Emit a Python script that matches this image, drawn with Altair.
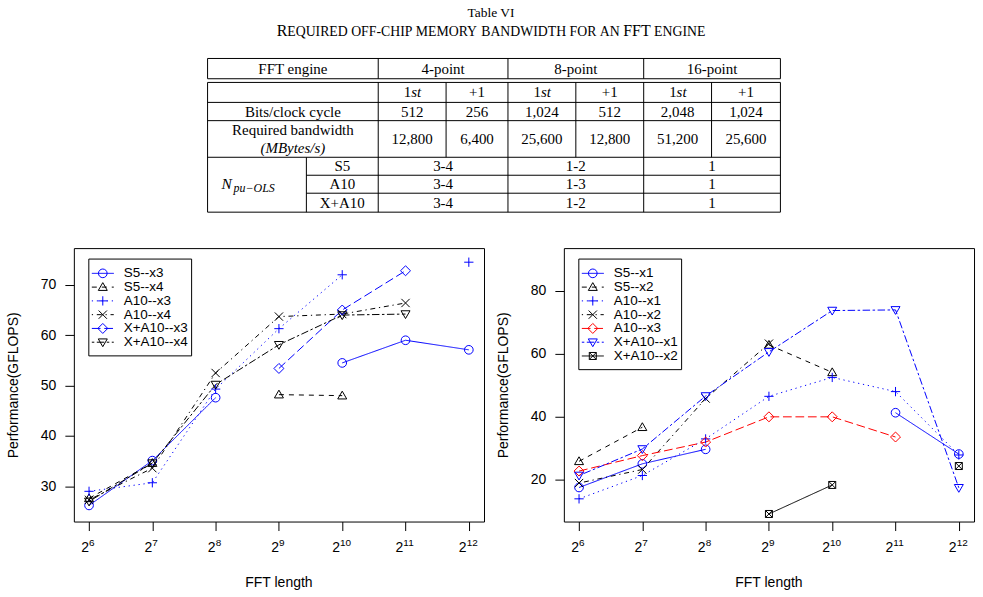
import altair as alt
import pandas as pd

# ---------------- data ----------------
fft_lengths = [64, 128, 256, 512, 1024, 2048, 4096]
fft_exponents = ["6", "7", "8", "9", "10", "11", "12"]

left_series = ["S5--x3", "S5--x4", "A10--x3", "A10--x4", "X+A10--x3", "X+A10--x4"]
left_s5_x3 = [26.2, 35.1, 47.6, None, 54.5, 59.0, 57.1]
left_s5_x4 = [27.6, 34.6, None, 48.2, 48.0, None, None]
left_a10_x3 = [29.0, 30.7, 49.3, 61.3, 72.0, None, 74.5]
left_a10_x4 = [27.3, 33.6, 52.5, 63.7, 64.2, 66.4, None]
left_xa10_x3 = [None, None, None, 53.4, 65.0, 72.8, None]
left_xa10_x4 = [27.0, 34.6, 50.2, 58.1, 64.0, 64.2, None]
left_y_ticks = [30, 40, 50, 60, 70]

right_series = ["S5--x1", "S5--x2", "A10--x1", "A10--x2", "A10--x3", "X+A10--x1", "X+A10--x2"]
right_s5_x1 = [17.6, 25.1, 29.7, None, None, 41.3, 28.2]
right_s5_x2 = [25.9, 36.7, None, 62.8, 54.1, None, None]
right_a10_x1 = [14.0, 21.4, 33.0, 46.5, 52.5, 48.0, 27.9]
right_a10_x2 = [19.0, 23.3, 45.8, 63.2, None, None, None]
right_a10_x3 = [22.8, 27.7, 32.0, 40.0, 40.0, 33.6, None]
right_xa10_x1 = [21.4, 29.8, 46.6, 60.6, 73.7, 73.9, 17.5]
right_xa10_x2 = [None, None, None, 9.2, 18.4, None, 24.4]
right_y_ticks = [20, 40, 60, 80]

table_title = "Table VI"
# caption in small caps, word by word: list of (piece, is_full_capital)
table_caption = [
    [("R", True), ("EQUIRED", False)], [("OFF-CHIP", False)], [("MEMORY", False)],
    [("BANDWIDTH", False)], [("FOR", False)], [("AN", False)], [("FFT", True)], [("ENGINE", False)],
]
engine_header = "FFT engine"
engine_names = ["4-point", "8-point", "16-point"]
stage_first = ("1", "st")
stage_next = "+1"
bits_label = "Bits/clock cycle"
bits_values = ["512", "256", "1,024", "512", "2,048", "1,024"]
bw_label = "Required bandwidth"
bw_unit = "(MBytes/s)"
bw_values = ["12,800", "6,400", "25,600", "12,800", "51,200", "25,600"]
npu_main, npu_sub = "N", "pu\u2212OLS"
platforms = ["S5", "A10", "X+A10"]
npu_values = [["3-4", "1-2", "1"], ["3-4", "1-3", "1"], ["3-4", "1-2", "1"]]

# ---------------- styles / layout ----------------
SANS = "Liberation Sans"
SERIF = "Liberation Serif"
BLUE, BLACK, RED = "#0000ff", "#000000", "#ff0000"
DASH = {
    "solid": [1, 0], "dashed": [5, 5], "dotted": [1.25, 3.75],
    "dotdash": [1.25, 3.75, 5, 3.75], "longdash": [8.75, 3.75], "twodash": [2.5, 2.5, 7.5, 2.5],
}
SHAPE = {
    "circle": "M0.87,0A0.87,0.87,0,1,1,-0.87,0A0.87,0.87,0,1,1,0.87,0Z",
    "tri_up": "M0,-0.9L0.9,0.66L-0.9,0.66Z",
    "plus": "M-0.93,0L0.93,0M0,-0.93L0,0.93",
    "cross": "M-0.83,-0.83L0.83,0.83M-0.83,0.83L0.83,-0.83",
    "diamond": "M0,-1L1,0L0,1L-1,0Z",
    "tri_down": "M0,0.9L0.9,-0.66L-0.9,-0.66Z",
    "boxcross": "M-0.7,-0.7L0.7,-0.7L0.7,0.7L-0.7,0.7ZM-0.7,-0.7L0.7,0.7M-0.7,0.7L0.7,-0.7",
}
left_style = dict(
    colors=[BLUE, BLACK, BLUE, BLACK, BLUE, BLACK],
    dashes=[DASH[k] for k in ["solid", "dashed", "dotted", "dotdash", "longdash", "twodash"]],
    shapes=[SHAPE[k] for k in ["circle", "tri_up", "plus", "cross", "diamond", "tri_down"]],
)
right_style = dict(
    colors=[BLUE, BLACK, BLUE, BLACK, RED, BLUE, BLACK],
    dashes=[DASH[k] for k in ["solid", "dashed", "dotted", "dotdash", "longdash", "twodash", "solid"]],
    shapes=[SHAPE[k] for k in ["circle", "tri_up", "plus", "cross", "diamond", "tri_down", "boxcross"]],
)

PLOT_W, PLOT_H = 411, 274
X_DOMAIN = [2 ** 5.76, 2 ** 12.24]
LEFT_Y_DOMAIN = [23.0, 77.3]
RIGHT_Y_DOMAIN = [6.8, 93.5]
LEG_X0, LEG_X1 = 15, 118
LEG_SEG0, LEG_SEG1, LEG_SYM, LEG_TXT = 18, 40, 29, 50
LEG_TOP, LEG_Y0, LEG_STEP = 11, 25.3, 13.8


def series_frame(names, series):
    rows = []
    for name, vals in zip(names, series):
        for f, v in zip(fft_lengths, vals):
            rows.append({"fft": f, "series": name, "value": v})
    return pd.DataFrame(rows)


def make_panel(names, series, style, y_domain, y_ticks):
    df = series_frame(names, series)
    x_axis = alt.Axis(
        values=fft_lengths, labels=False, ticks=True, tickSize=9, tickColor="black", tickWidth=1,
        domain=False, grid=False, title="FFT length", titleFont=SANS, titleFontSize=14,
        titleFontWeight="normal", titleColor="black", titleX=205, titleY=61,
        titleBaseline="middle", titleAlign="center",
    )
    y_axis = alt.Axis(
        values=y_ticks, tickSize=9, tickColor="black", tickWidth=1, domain=False, grid=False,
        labelFont=SANS, labelFontSize=14, labelColor="black", labelPadding=9,
        title="Performance(GFLOPS)", titleFont=SANS, titleFontSize=14, titleFontWeight="normal",
        titleColor="black", titleX=-60, titleY=137, titleAngle=270, titleBaseline="middle",
        titleAlign="center",
    )
    x_enc = alt.X("fft:Q", scale=alt.Scale(type="log", base=2, domain=X_DOMAIN, nice=False), axis=x_axis)
    y_enc = alt.Y("value:Q", scale=alt.Scale(domain=y_domain, nice=False, zero=False), axis=y_axis)
    color = alt.Color("series:N", scale=alt.Scale(domain=names, range=style["colors"]), legend=None)
    dash = alt.StrokeDash("series:N", scale=alt.Scale(domain=names, range=style["dashes"]), legend=None)
    shape = alt.Shape("series:N", scale=alt.Scale(domain=names, range=style["shapes"]), legend=None)

    lines = alt.Chart(df).mark_line(strokeWidth=1, invalid="break-paths-filter-domains").encode(
        x=x_enc, y=y_enc, color=color, strokeDash=dash
    )
    points = alt.Chart(df).transform_filter("isValid(datum.value)").mark_point(
        filled=False, size=100, strokeWidth=1, opacity=1
    ).encode(x=x_enc, y=y_enc, color=color, shape=shape)
    data_layer = alt.layer(lines, points)

    n = len(names)
    leg_df = pd.DataFrame({"series": names})
    ly = alt.Y("series:N", scale=alt.Scale(type="point", domain=names,
                                            range=[LEG_Y0, LEG_Y0 + LEG_STEP * (n - 1)], padding=0), axis=None)
    box = alt.Chart(pd.DataFrame({"k": [0]})).mark_rect(fill="white", stroke="black", strokeWidth=1).encode(
        x=alt.value(LEG_X0), x2=alt.value(LEG_X1), y=alt.value(LEG_TOP),
        y2=alt.value(LEG_Y0 + LEG_STEP * (n - 1) + 13.7),
    )
    seg = alt.Chart(leg_df).mark_rule(strokeWidth=1).encode(
        x=alt.value(LEG_SEG0), x2=alt.value(LEG_SEG1), y=ly, color=color, strokeDash=dash
    )
    sym = alt.Chart(leg_df).mark_point(filled=False, size=100, strokeWidth=1, opacity=1).encode(
        x=alt.value(LEG_SYM), y=ly, color=color, shape=shape
    )
    lab = alt.Chart(leg_df).mark_text(align="left", baseline="middle", font=SANS, fontSize=13.5,
                                      color="black").encode(x=alt.value(LEG_TXT), y=ly, text="series:N")
    legend_layer = alt.layer(box, seg, sym, lab)

    tick_df = pd.DataFrame({"fft": fft_lengths, "exp": fft_exponents,
                            "ndig": [len(e) for e in fft_exponents]})
    tick_layers = []
    for nd, dx in [(1, 0), (2, -2.2)]:
        base = alt.Chart(tick_df).transform_filter(f"datum.ndig == {nd}").mark_text(
            align="right", baseline="alphabetic", font=SANS, fontSize=14, dx=dx, color="black"
        ).encode(x=x_enc, y=alt.value(PLOT_H + 30.7), text=alt.value("2"))
        sup = alt.Chart(tick_df).transform_filter(f"datum.ndig == {nd}").mark_text(
            align="left", baseline="alphabetic", font=SANS, fontSize=10, dx=dx, color="black"
        ).encode(x=x_enc, y=alt.value(PLOT_H + 24.7), text="exp:N")
        tick_layers += [base, sup]

    return alt.layer(data_layer, legend_layer, *tick_layers).resolve_scale(y="independent").properties(
        width=PLOT_W, height=PLOT_H, view=alt.ViewBackground(stroke="black", strokeWidth=1)
    )


left_panel = make_panel(
    left_series, [left_s5_x3, left_s5_x4, left_a10_x3, left_a10_x4, left_xa10_x3, left_xa10_x4],
    left_style, LEFT_Y_DOMAIN, left_y_ticks,
)
right_panel = make_panel(
    right_series, [right_s5_x1, right_s5_x2, right_a10_x1, right_a10_x2, right_a10_x3, right_xa10_x1, right_xa10_x2],
    right_style, RIGHT_Y_DOMAIN, right_y_ticks,
)

# ---------------- table ----------------
T_W, T_H = 910, 227
T_FONT = 15
LEFT, SUB, VAL0 = 207, 306, 378
val_edges = [378, 446, 508, 576, 644, 712, 781]
eng_edges = [378, 508, 644, 781]
HDR_T, HDR_B, BODY_T = 57, 77.3, 81
ROW_B = [101, 119.3, 156, 174, 192, 211]
RIGHT = 781

seg_rows = []
for yy in [HDR_T, HDR_B, BODY_T, ROW_B[0], ROW_B[1], ROW_B[2], ROW_B[5]]:
    seg_rows.append((LEFT, RIGHT, yy, yy))
for yy in [ROW_B[3], ROW_B[4]]:
    seg_rows.append((SUB, RIGHT, yy, yy))
for xx in [LEFT] + eng_edges:
    seg_rows.append((xx, xx, HDR_T, HDR_B))
    seg_rows.append((xx, xx, BODY_T, ROW_B[5]))
for xx in [446, 576, 712]:
    seg_rows.append((xx, xx, BODY_T, ROW_B[2]))
seg_rows.append((SUB, SUB, ROW_B[2], ROW_B[5]))
seg_df = pd.DataFrame(seg_rows, columns=["x", "x2", "y", "y2"])

val_centers = [(a + b) / 2 for a, b in zip(val_edges[:-1], val_edges[1:])]
eng_centers = [(a + b) / 2 for a, b in zip(eng_edges[:-1], eng_edges[1:])]
label_cx = (LEFT + VAL0) / 2
sub_cx = (SUB + VAL0) / 2
y_hdr, y_stage, y_bits, y_bw, y_bw1, y_bw2 = 67.3, 91, 110.2, 137.8, 129, 146.5
y_plat = [165, 183, 201.5]

reg = [(engine_header, label_cx, y_hdr)]
reg += [(e, c, y_hdr) for e, c in zip(engine_names, eng_centers)]
reg += [(bits_label, label_cx, y_bits)] + [(v, c, y_bits) for v, c in zip(bits_values, val_centers)]
reg += [(bw_label, label_cx, y_bw1)] + [(v, c, y_bw) for v, c in zip(bw_values, val_centers)]
for i, p in enumerate(platforms):
    reg.append((p, sub_cx, y_plat[i]))
    reg += [(v, c, y_plat[i]) for v, c in zip(npu_values[i], eng_centers)]
reg += [(stage_next, c, y_stage) for c in val_centers[1::2]]
reg_df = pd.DataFrame(reg, columns=["text", "x", "y"])

one_df = pd.DataFrame([(stage_first[0], c - 1, y_stage) for c in val_centers[0::2]], columns=["text", "x", "y"])
st_df = pd.DataFrame([(stage_first[1], c - 1, y_stage) for c in val_centers[0::2]], columns=["text", "x", "y"])
ital_df = pd.DataFrame([(bw_unit, label_cx, y_bw2)], columns=["text", "x", "y"])
n_df = pd.DataFrame([(npu_main, 221, y_plat[1])], columns=["text", "x", "y"])
nsub_df = pd.DataFrame([(npu_sub, 233, y_plat[1] + 4)], columns=["text", "x", "y"])
title_df = pd.DataFrame([(table_title, 491, 11)], columns=["text", "x", "y"])

# small-caps caption laid out from Times-style advance widths
TIMES_W = {"A": .722, "B": .667, "C": .667, "D": .722, "E": .611, "F": .556, "G": .722, "H": .722,
           "I": .333, "K": .722, "L": .611, "M": .889, "N": .722, "O": .722, "P": .556, "Q": .722,
           "R": .667, "S": .556, "T": .611, "U": .722, "W": .944, "Y": .722, "-": .333}
CAP_BIG, CAP_SMALL, CAP_BASE = 16, 13.8, 34.5
SPACE_W = 0.25 * CAP_SMALL
pieces = []
for wi, word in enumerate(table_caption):
    for txt, big in word:
        fs = CAP_BIG if big else CAP_SMALL
        pieces.append((txt, big, sum(TIMES_W.get(ch, .6) for ch in txt) * fs, wi))
cap_total = sum(p[2] for p in pieces) + SPACE_W * (len(table_caption) - 1)
cx = 491 - cap_total / 2
big_rows, small_rows = [], []
prev_word = 0
for txt, big, w, wi in pieces:
    if wi != prev_word:
        cx += SPACE_W
        prev_word = wi
    (big_rows if big else small_rows).append((txt, cx, CAP_BASE))
    cx += w
cap_big_df = pd.DataFrame(big_rows, columns=["text", "x", "y"])
cap_small_df = pd.DataFrame(small_rows, columns=["text", "x", "y"])

tx = alt.X("x:Q", scale=alt.Scale(domain=[73, 73 + T_W], range=[0, T_W]), axis=None)
ty = alt.Y("y:Q", scale=alt.Scale(domain=[0, T_H], range=[0, T_H]), axis=None)

bound = alt.Chart(pd.DataFrame({"x": [0], "x2": [983], "y": [0], "y2": [0]})).mark_rule(
    strokeOpacity=0, strokeWidth=0.01).encode(x=tx, x2="x2:Q", y=ty, y2="y2:Q")
grid = alt.Chart(seg_df).mark_rule(color="black", strokeWidth=1).encode(x=tx, x2="x2:Q", y=ty, y2="y2:Q")


def text_layer(df, **kw):
    props = dict(font=SERIF, fontSize=T_FONT, baseline="middle", align="center", color="black")
    props.update(kw)
    return alt.Chart(df).mark_text(**props).encode(x=tx, y=ty, text="text:N")


table_chart = alt.layer(
    bound, grid,
    text_layer(reg_df),
    text_layer(one_df, align="right"),
    text_layer(st_df, align="left", fontStyle="italic"),
    text_layer(ital_df, fontStyle="italic"),
    text_layer(n_df, align="left", fontStyle="italic", fontSize=15.5),
    text_layer(nsub_df, align="left", fontStyle="italic", fontSize=12),
    text_layer(title_df, fontSize=13.5),
    text_layer(cap_big_df, fontSize=CAP_BIG, align="left", baseline="alphabetic"),
    text_layer(cap_small_df, fontSize=CAP_SMALL, align="left", baseline="alphabetic"),
).properties(width=T_W, height=T_H)

plots = alt.hconcat(left_panel, right_panel, spacing=80, bounds="flush").resolve_scale(
    color="independent", shape="independent", strokeDash="independent"
)

chart = alt.vconcat(
    table_chart, plots, spacing=20, bounds="flush",
).properties(padding=0).configure_view(stroke="transparent")

chart.save("out.html", embed_options={"renderer": "svg", "actions": False})
